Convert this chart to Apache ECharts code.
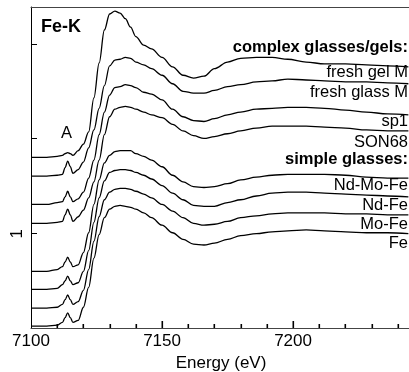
<!DOCTYPE html>
<html>
<head>
<meta charset="utf-8">
<script src="https://cdn.jsdelivr.net/npm/echarts@6/dist/echarts.min.js"></script>
<style>
  html, body { margin: 0; padding: 0; background: #fff; }
  #chart { width: 409px; height: 372px; }
</style>
</head>
<body>
<div id="chart"></div>
<script>
// energy grid (eV), shared by all spectra
var energy = [7100, 7106, 7110, 7112, 7113, 7114, 7115, 7116, 7118, 7120, 7122, 7124, 7126, 7128, 7130,
  7132, 7134, 7136, 7138, 7140, 7143, 7146, 7150, 7154, 7158, 7162, 7166, 7170, 7175, 7180,
  7186, 7192, 7198, 7205, 7212, 7220, 7228, 7236, 7244];

// normalized absorbance, stacked as in the figure
var freshGelM = [1.81, 1.81, 1.82, 1.83, 1.85, 1.86, 1.85, 1.83, 1.88, 1.95, 2.08, 2.44, 2.81, 3.16, 3.33,
  3.36, 3.34, 3.28, 3.19, 3.09, 3.00, 2.96, 2.87, 2.77, 2.68, 2.65, 2.67, 2.75, 2.82, 2.86,
  2.87, 2.87, 2.85, 2.82, 2.80, 2.80, 2.79, 2.78, 2.77];
var freshGlassM = [1.61, 1.61, 1.62, 1.63, 1.70, 1.77, 1.71, 1.64, 1.68, 1.76, 1.91, 2.10, 2.33, 2.57, 2.78,
  2.84, 2.85, 2.87, 2.86, 2.82, 2.79, 2.75, 2.68, 2.59, 2.51, 2.49, 2.49, 2.52, 2.56, 2.58,
  2.61, 2.62, 2.64, 2.63, 2.62, 2.61, 2.61, 2.60, 2.59];
var sp1 = [1.31, 1.31, 1.33, 1.34, 1.39, 1.45, 1.39, 1.34, 1.37, 1.44, 1.59, 1.78, 2.05, 2.29, 2.47,
  2.55, 2.56, 2.58, 2.57, 2.55, 2.50, 2.48, 2.42, 2.32, 2.24, 2.20, 2.19, 2.22, 2.26, 2.29,
  2.32, 2.33, 2.34, 2.34, 2.33, 2.31, 2.29, 2.27, 2.26];
var son68 = [1.11, 1.11, 1.12, 1.13, 1.20, 1.26, 1.20, 1.13, 1.18, 1.25, 1.38, 1.55, 1.78, 2.05, 2.24,
  2.32, 2.34, 2.35, 2.34, 2.32, 2.29, 2.26, 2.23, 2.16, 2.09, 2.04, 2.01, 2.03, 2.06, 2.09,
  2.12, 2.14, 2.14, 2.14, 2.13, 2.12, 2.10, 2.09, 2.09];
var ndMoFe = [0.60, 0.60, 0.62, 0.65, 0.70, 0.75, 0.70, 0.65, 0.67, 0.80, 1.01, 1.31, 1.57, 1.75, 1.83,
  1.87, 1.88, 1.88, 1.88, 1.85, 1.82, 1.78, 1.71, 1.62, 1.55, 1.50, 1.49, 1.50, 1.53, 1.57,
  1.60, 1.62, 1.63, 1.63, 1.63, 1.62, 1.60, 1.59, 1.59];
var ndFe = [0.41, 0.41, 0.42, 0.46, 0.50, 0.55, 0.50, 0.46, 0.48, 0.60, 0.82, 1.12, 1.38, 1.56, 1.65,
  1.67, 1.68, 1.68, 1.67, 1.65, 1.62, 1.58, 1.51, 1.43, 1.36, 1.30, 1.29, 1.29, 1.33, 1.36,
  1.40, 1.43, 1.44, 1.44, 1.43, 1.42, 1.41, 1.40, 1.39];
var moFe = [0.21, 0.21, 0.22, 0.25, 0.30, 0.35, 0.30, 0.25, 0.28, 0.40, 0.62, 0.92, 1.18, 1.36, 1.44,
  1.47, 1.48, 1.48, 1.47, 1.45, 1.42, 1.38, 1.31, 1.24, 1.17, 1.11, 1.09, 1.10, 1.13, 1.17,
  1.19, 1.21, 1.22, 1.22, 1.22, 1.21, 1.21, 1.20, 1.20];
var fe = [0.02, 0.02, 0.03, 0.06, 0.11, 0.16, 0.11, 0.06, 0.08, 0.22, 0.43, 0.74, 0.99, 1.17, 1.26,
  1.29, 1.30, 1.29, 1.28, 1.26, 1.22, 1.17, 1.09, 1.01, 0.94, 0.89, 0.88, 0.90, 0.94, 0.98,
  1.00, 1.02, 1.03, 1.04, 1.03, 1.02, 1.01, 1.01, 1.00];

var spectra = [freshGelM, freshGlassM, sp1, son68, ndMoFe, ndFe, moFe, fe];

// text drawn at the right end of the curves
var sampleNames = ['fresh gel M', 'fresh glass M', 'sp1', 'SON68', 'Nd-Mo-Fe', 'Nd-Fe', 'Mo-Fe', 'Fe'];
var groupNames = ['complex glasses/gels:', 'simple glasses:'];

// axis ticks: every 10 eV (long ones every 50 eV), one per absorbance unit
var xTicks = [7110, 7120, 7130, 7140, 7150, 7160, 7170, 7180, 7190, 7200, 7210, 7220, 7230, 7240];
var yTicks = [1, 2, 3];

var font = '"Liberation Sans", Arial, Helvetica, sans-serif';
var myChart = echarts.init(document.getElementById('chart'));

var labelY = [73, 93, 122, 142.5, 185.5, 206, 225, 243.5];
var graphics = sampleNames.map(function (n, i) {
  return {
    type: 'text', right: 1, top: labelY[i] - 9,
    style: { text: n, fontSize: 16.5, fontFamily: font, fill: '#000' }
  };
});
graphics.push({ type: 'text', right: 1, top: 39, style: { text: groupNames[0], fontSize: 16.5, fontWeight: 'bold', fontFamily: font, fill: '#000' } });
graphics.push({ type: 'text', right: 1, top: 151, style: { text: groupNames[1], fontSize: 16.5, fontWeight: 'bold', fontFamily: font, fill: '#000' } });
graphics.push({ type: 'text', left: 41, top: 18, style: { text: 'Fe-K', fontSize: 18, fontWeight: 'bold', fontFamily: font, fill: '#000' } });
graphics.push({ type: 'text', left: 61, top: 125, style: { text: 'A', fontSize: 16.5, fontFamily: font, fill: '#000' } });

var xRange = { min: 7100, max: 7245 };
var yRange = { min: 0, max: 3.404 };

// tick marks pointing into the plot, placed through the axis scales.
// items sitting on x = min are y ticks, all others are x ticks
function tickItem(params, api) {
  var xv = api.value(0), yv = api.value(1);
  var p = api.coord([xv, yv]);
  var x = Math.round(p[0]), y = Math.round(p[1]);
  if (xv === xRange.min) {
    return {
      type: 'line',
      shape: { x1: x, y1: y - 0.5, x2: x + 6, y2: y - 0.5 },
      style: { stroke: '#000', lineWidth: 1 }
    };
  }
  var len = xv % 50 === 0 ? 7 : 4;
  return {
    type: 'rect',
    shape: { x: x - 0.5, y: y - len, width: 1.6, height: len },
    style: { fill: '#000' }
  };
}
var tickData = yTicks.map(function (v) { return [xRange.min, v]; })
  .concat(xTicks.map(function (v) { return [v, yRange.min]; }));

var option = {
  animation: false,
  backgroundColor: '#fff',
  grid: { left: 31, right: -2, top: 7, bottom: 44, outerBoundsMode: 'none', containLabel: false },
  xAxis: [{
    type: 'value', min: xRange.min, max: xRange.max, interval: 50,
    name: 'Energy (eV)', nameLocation: 'middle', nameGap: 25,
    nameTextStyle: { fontSize: 17, fontFamily: font, color: '#000' },
    axisLine: { show: true, onZero: false, lineStyle: { color: '#444', width: 1 } },
    axisTick: { show: false },
    splitLine: { show: false },
    axisLabel: {
      show: true, fontSize: 17, fontFamily: font, color: '#000', margin: 5,
      formatter: function (v) { return v % 50 === 0 ? String(v) : ''; }
    }
  }, {
    type: 'value', position: 'top', min: xRange.min, max: xRange.max,
    axisLine: { show: true, onZero: false, lineStyle: { color: '#444', width: 1 } },
    axisTick: { show: false }, axisLabel: { show: false }, splitLine: { show: false }
  }],
  yAxis: {
    type: 'value', min: yRange.min, max: yRange.max, interval: 1,
    axisLine: { show: true, onZero: false, lineStyle: { color: '#000', width: 1 } },
    axisTick: { show: false },
    splitLine: { show: false },
    axisLabel: {
      show: true, rotate: 90, fontSize: 17, fontFamily: font, color: '#000', margin: 5,
      formatter: function (v) { return v === 1 ? '1' : ''; }
    }
  },
  graphic: graphics,
  series: spectra.map(function (s, k) {
    return {
      name: sampleNames[k],
      type: 'line',
      xAxisIndex: 0,
      showSymbol: false,
      smooth: 0.35,
      smoothMonotone: 'x',
      lineStyle: { color: '#000', width: 1.3 },
      data: energy.map(function (e, i) { return [e, s[i]]; })
    };
  }).concat([{
    type: 'custom', name: 'ticks', xAxisIndex: 0, clip: false, silent: true, z: 10,
    renderItem: tickItem,
    data: tickData
  }])
};

myChart.setOption(option);
</script>
</body>
</html>
